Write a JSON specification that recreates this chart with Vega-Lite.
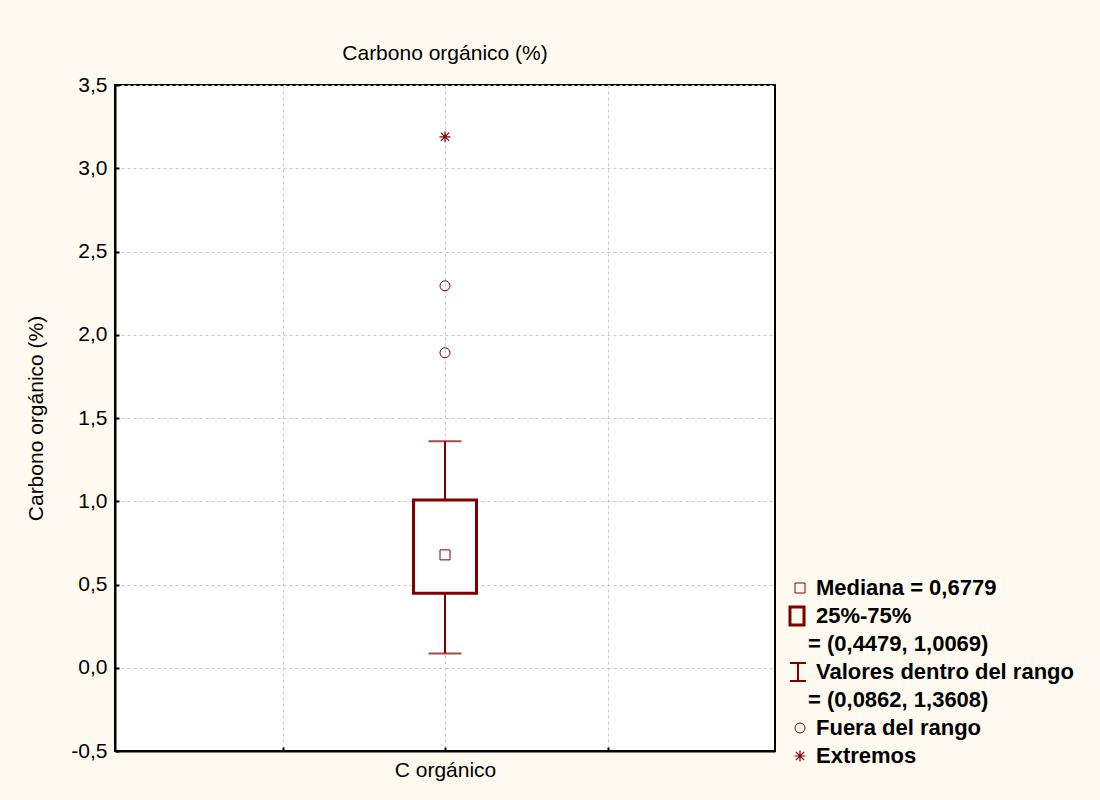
{
  "$schema": "https://vega.github.io/schema/vega-lite/v6.json",
  "background": "#FFFAF0",
  "padding": {"left": 24, "top": 42, "right": 10, "bottom": 30},
  "config": {
    "font": "Liberation Sans",
    "view": {"stroke": null},
    "concat": {"spacing": 7}
  },
  "datasets": {
    "box": [
      {"variable": "C orgánico", "pos": 2, "min": 0.0862, "q1": 0.4479, "median": 0.6779, "q3": 1.0069, "max": 1.3608}
    ],
    "outliers": [
      {"pos": 2, "value": 2.294, "type": "Fuera del rango"},
      {"pos": 2, "value": 1.892, "type": "Fuera del rango"}
    ],
    "extremes": [
      {"pos": 2, "value": 3.189, "type": "Extremos"}
    ],
    "legend": [
      {"row": 0, "label": "Mediana = 0,6779", "indent": 2.6, "sym": "median"},
      {"row": 1, "label": "25%-75%", "indent": 2.6, "sym": "box"},
      {"row": 2, "label": "= (0,4479, 1,0069)", "indent": 1.8, "sym": "none"},
      {"row": 3, "label": "Valores dentro del rango", "indent": 2.6, "sym": "whisker"},
      {"row": 4, "label": "= (0,0862, 1,3608)", "indent": 1.8, "sym": "none"},
      {"row": 5, "label": "Fuera del rango", "indent": 2.6, "sym": "outlier"},
      {"row": 6, "label": "Extremos", "indent": 2.6, "sym": "extreme"}
    ]
  },
  "hconcat": [
    {
      "width": 660,
      "height": 666,
      "title": {"text": "Carbono orgánico (%)", "fontSize": 21, "fontWeight": "normal", "color": "black", "offset": 10},
      "view": {"stroke": "black", "strokeWidth": 2, "fill": "white"},
      "data": {"name": "box"},
      "encoding": {
        "x": {
          "field": "pos", "type": "quantitative",
          "scale": {"domain": [0, 4], "nice": false, "zero": false},
          "axis": {
            "title": null, "values": [1, 2, 3],
            "labelExpr": "datum.value == 2 ? 'C orgánico' : ''",
            "labelFontSize": 21, "labelColor": "black", "labelPadding": 12,
            "grid": true, "gridDash": [3, 3], "gridColor": "#c8c8c8",
            "domainColor": "black", "domainWidth": 2,
            "tickColor": "black", "tickSize": -4, "tickWidth": 2
          }
        }
      },
      "layer": [
        {
          "mark": {"type": "rule", "color": "#800000", "strokeWidth": 2},
          "encoding": {
            "y": {
              "field": "min", "type": "quantitative",
              "scale": {"domain": [-0.5, 3.5], "nice": false, "zero": false},
              "axis": {
                "title": "Carbono orgánico (%)", "titleFontSize": 21, "titleFontWeight": "normal", "titleColor": "black", "titlePadding": 24,
                "values": [-0.5, 0, 0.5, 1, 1.5, 2, 2.5, 3, 3.5],
                "labelExpr": "replace(replace(format(datum.value, '.1f'), '.', ','), '\u2212', '-')",
                "labelFontSize": 21, "labelColor": "black", "labelPadding": 12,
                "grid": true, "gridDash": [3, 3], "gridColor": "#c8c8c8",
                "domainColor": "black", "domainWidth": 2,
                "tickColor": "black", "tickSize": -4, "tickWidth": 2
              }
            },
            "y2": {"field": "q1"}
          }
        },
        {
          "mark": {"type": "rule", "color": "#800000", "strokeWidth": 2},
          "encoding": {"y": {"field": "q3", "type": "quantitative"}, "y2": {"field": "max"}}
        },
        {
          "mark": {"type": "tick", "orient": "horizontal", "color": "#800000", "size": 33, "thickness": 2},
          "encoding": {"y": {"field": "min", "type": "quantitative"}}
        },
        {
          "mark": {"type": "tick", "orient": "horizontal", "color": "#800000", "size": 33, "thickness": 2},
          "encoding": {"y": {"field": "max", "type": "quantitative"}}
        },
        {
          "mark": {"type": "bar", "fill": "white", "stroke": "#800000", "strokeWidth": 3, "size": 63},
          "encoding": {"y": {"field": "q1", "type": "quantitative"}, "y2": {"field": "q3"}}
        },
        {
          "mark": {"type": "point", "shape": "square", "filled": false, "color": "#800000", "size": 100, "strokeWidth": 1, "opacity": 1},
          "encoding": {"y": {"field": "median", "type": "quantitative"}}
        },
        {
          "data": {"name": "outliers"},
          "mark": {"type": "point", "shape": "circle", "filled": false, "color": "#800000", "size": 100, "strokeWidth": 1, "opacity": 1},
          "encoding": {"y": {"field": "value", "type": "quantitative"}}
        },
        {
          "data": {"name": "extremes"},
          "mark": {"type": "point", "shape": "M0,-1V1M-1,0H1M-0.75,-0.75L0.75,0.75M-0.75,0.75L0.75,-0.75", "filled": false, "color": "#800000", "size": 120, "strokeWidth": 1.2, "opacity": 1},
          "encoding": {"y": {"field": "value", "type": "quantitative"}}
        }
      ]
    },
    {
      "width": 300,
      "height": 666,
      "data": {"name": "legend"},
      "encoding": {
        "y": {"field": "row", "type": "quantitative", "scale": {"domain": [-17.964, 5.821], "reverse": true, "nice": false, "zero": false}, "axis": null}
      },
      "layer": [
        {
          "mark": {"type": "text", "align": "left", "baseline": "middle", "fontWeight": "bold", "fontSize": 22, "color": "black"},
          "encoding": {
            "x": {"field": "indent", "type": "quantitative", "scale": {"domain": [0, 30], "nice": false, "zero": false}, "axis": null},
            "text": {"field": "label"}
          }
        },
        {
          "transform": [{"filter": "datum.sym == 'median'"}],
          "mark": {"type": "point", "shape": "square", "filled": false, "color": "#800000", "size": 100, "strokeWidth": 1, "opacity": 1},
          "encoding": {"x": {"datum": 1, "type": "quantitative"}}
        },
        {
          "transform": [{"filter": "datum.sym == 'box'"}],
          "mark": {"type": "point", "shape": "M-0.78,-1H0.78V1H-0.78Z", "filled": false, "color": "#800000", "size": 324, "strokeWidth": 3, "opacity": 1},
          "encoding": {"x": {"datum": 0.7, "type": "quantitative"}}
        },
        {
          "transform": [{"filter": "datum.sym == 'whisker'"}],
          "mark": {"type": "point", "shape": "M-0.9,-1H0.9M0,-1V1M-0.9,1H0.9", "filled": false, "color": "#800000", "size": 324, "strokeWidth": 2, "opacity": 1},
          "encoding": {"x": {"datum": 0.8, "type": "quantitative"}}
        },
        {
          "transform": [{"filter": "datum.sym == 'outlier'"}],
          "mark": {"type": "point", "shape": "circle", "filled": false, "color": "#800000", "size": 100, "strokeWidth": 1, "opacity": 1},
          "encoding": {"x": {"datum": 1, "type": "quantitative"}}
        },
        {
          "transform": [{"filter": "datum.sym == 'extreme'"}],
          "mark": {"type": "point", "shape": "M0,-1V1M-1,0H1M-0.75,-0.75L0.75,0.75M-0.75,0.75L0.75,-0.75", "filled": false, "color": "#800000", "size": 120, "strokeWidth": 1.2, "opacity": 1},
          "encoding": {"x": {"datum": 1, "type": "quantitative"}}
        }
      ]
    }
  ]
}
